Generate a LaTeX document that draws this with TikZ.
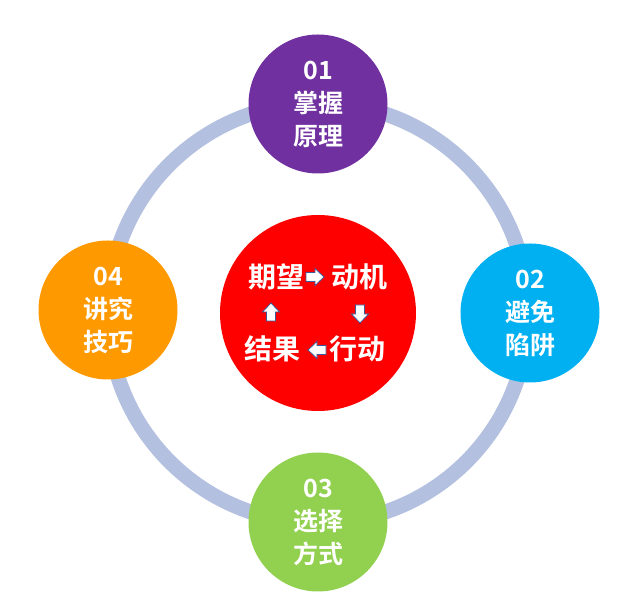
\documentclass[tikz,border=0pt]{standalone}
\usepackage{fontspec}
\setmainfont{Noto Sans CJK SC Bold}
\definecolor{ringc}{HTML}{B4C0E0}
\definecolor{cpurple}{HTML}{7030A0}
\definecolor{cblue}{HTML}{00B0F0}
\definecolor{cgreen}{HTML}{92D050}
\definecolor{corange}{HTML}{FF9900}
\definecolor{arrowline}{HTML}{3A5A9A}
\tikzset{
  x=1pt,y=1pt,
  stage/.style={circle,minimum size=139pt,inner sep=0pt,text=white,align=center,font=\fontsize{25}{33}\selectfont},
  core/.style={circle,fill=red,minimum size=196pt,inner sep=0pt},
  word/.style={text=white,font=\fontsize{28}{30}\selectfont,inner sep=0pt},
  blockarrow/.style={draw=arrowline,fill=white,line width=0.8pt,line join=miter},
}
\newcommand\blockarr[2]{%
  \path[blockarrow,shift={(#1)},rotate=#2] (-9,-4.5) -- (0,-4.5) -- (0,-8.5) -- (9,0) -- (0,8.5) -- (0,4.5) -- (-9,4.5) -- cycle;}
\begin{document}
\begin{tikzpicture}
\useasboundingbox (0,0) rectangle (641,613);
\coordinate (o) at (318,300);
\draw[ringc,line width=15pt] (o) circle (210);
\node[stage,fill=cpurple] (s1) at (318,509) {01\\掌握\\原理};
\node[stage,fill=cblue] (s2) at (530,300) {02\\避免\\陷阱};
\node[stage,fill=cgreen] (s3) at (318,91) {03\\选择\\方式};
\node[stage,fill=corange] (s4) at (108,303) {04\\讲究\\技巧};
\node[core] (c) at (o) {};
\node[word] (w1) at (276,336) {期望};
\node[word] (w2) at (359,336) {动机};
\node[word] (w3) at (357,264) {行动};
\node[word] (w4) at (272,264) {结果};
\coordinate (a1) at (315,336);
\coordinate (a2) at (360,299);
\coordinate (a3) at (317,263);
\coordinate (a4) at (271,301);
\blockarr{a1}{0}
\blockarr{a2}{270}
\blockarr{a3}{180}
\blockarr{a4}{90}
\end{tikzpicture}
\end{document}
